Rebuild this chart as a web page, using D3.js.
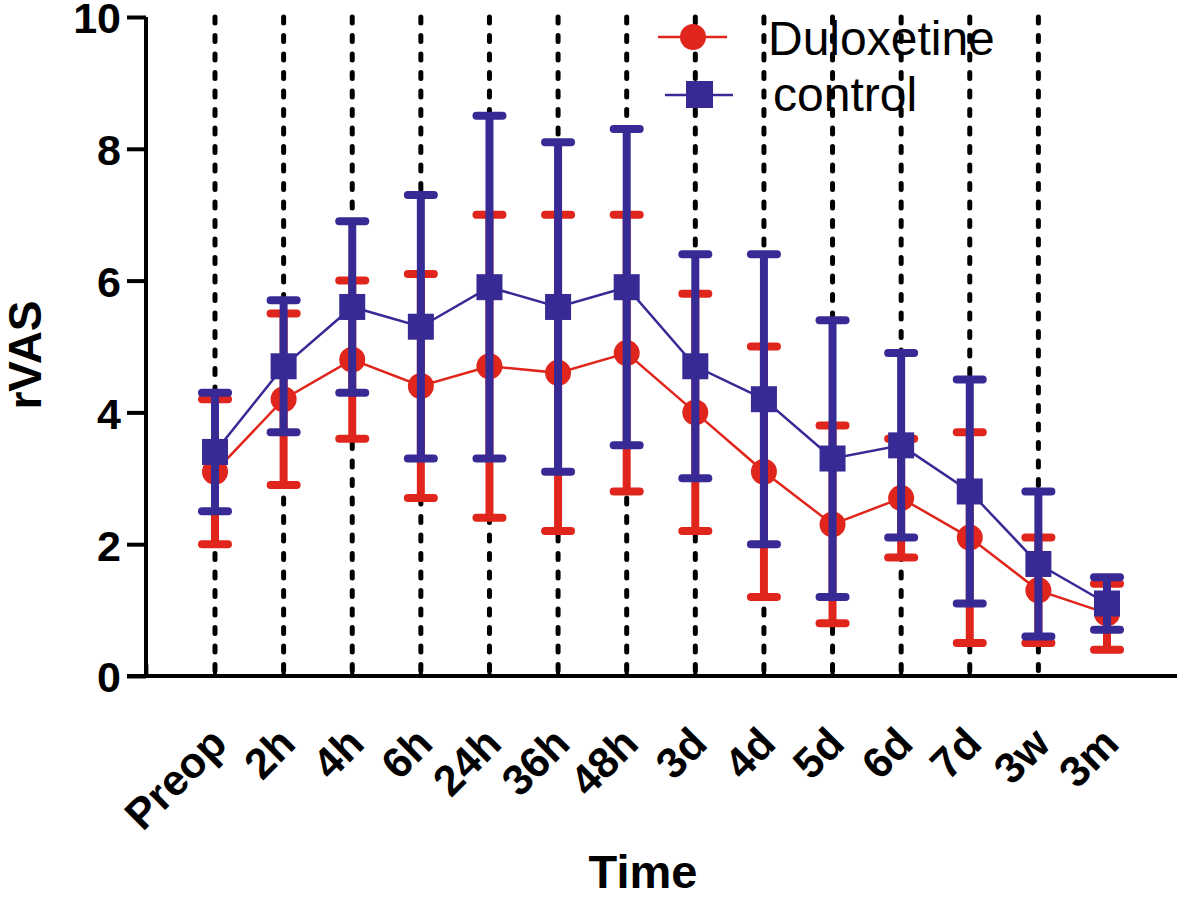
<!DOCTYPE html>
<html><head><meta charset="utf-8">
<script src="https://cdn.jsdelivr.net/npm/d3@7"></script>
<style>body{margin:0;background:#fff}svg{display:block}text{font-family:"Liberation Sans",Arial,sans-serif}</style>
</head><body><svg id="c" width="1180" height="898"></svg>
<script>
const categories = ["Preop","2h","4h","6h","24h","36h","48h","3d","4d","5d","6d","7d","3w","3m"];
const duloxMean  = [3.1,4.2,4.8,4.4,4.7,4.6,4.9,4.0,3.1,2.3,2.7,2.1,1.3,0.95];
const duloxUpper = [4.2,5.5,6.0,6.1,7.0,7.0,7.0,5.8,5.0,3.8,3.6,3.7,2.1,1.4];
const duloxLower = [2.0,2.9,3.6,2.7,2.4,2.2,2.8,2.2,1.2,0.8,1.8,0.5,0.5,0.4];
const ctrlMean   = [3.4,4.7,5.6,5.3,5.9,5.6,5.9,4.7,4.2,3.3,3.5,2.8,1.7,1.1];
const ctrlUpper  = [4.3,5.7,6.9,7.3,8.5,8.1,8.3,6.4,6.4,5.4,4.9,4.5,2.8,1.5];
const ctrlLower  = [2.5,3.7,4.3,3.3,3.3,3.1,3.5,3.0,2.0,1.2,2.1,1.1,0.6,0.7];
const yTicks = [0,2,4,6,8,10];
const seriesNames = ["Duloxetine","control"];

const RED = "#e0261c", BLUE = "#382a95";
const svg = d3.select("#c");
const x = d3.scalePoint().domain(categories).range([215,1107]);
const y = d3.scaleLinear().domain([0,10]).range([676,17]);
const step = x.step();

// dotted guide lines (all but last category)
svg.append("g").selectAll("line").data(categories.slice(0,-1)).join("line")
  .attr("x1",d=>x(d)).attr("x2",d=>x(d)).attr("y1",y(10)).attr("y2",y(0))
  .attr("stroke","#000").attr("stroke-width",5).attr("stroke-dasharray","6,12.5").attr("stroke-linecap","round");

// y axis
const ya = svg.append("g").attr("transform","translate(146,0)")
  .call(d3.axisLeft(y).tickValues(yTicks).tickSize(19).tickPadding(6).tickFormat(d3.format("d")));
ya.select(".domain").attr("stroke","#000").attr("stroke-width",4).attr("d",`M0,${y(10)}V${y(0)}`);
ya.selectAll(".tick line").attr("stroke","#000").attr("stroke-width",4);
ya.selectAll(".tick text").attr("font-size",43).attr("font-weight","bold").attr("fill","#000").attr("dy","0.37em");

// x axis line
svg.append("line").attr("x1",127).attr("x2",1177).attr("y1",y(0)).attr("y2",y(0)).attr("stroke","#000").attr("stroke-width",4);
// x ticks (offset one step left, GraphPad style)
svg.append("g").selectAll("line").data(categories.slice(0,-1)).join("line")
  .attr("x1",d=>x(d)-step).attr("x2",d=>x(d)-step).attr("y1",y(0)).attr("y2",y(0)-11)
  .attr("stroke","#000").attr("stroke-width",4).attr("stroke-linecap","round");
// x labels
svg.append("g").selectAll("text").data(categories).join("text")
  .attr("transform",d=>`translate(${x(d)+14},${746}) rotate(-45)`)
  .attr("text-anchor","end").attr("font-size",43).attr("font-weight","bold").text(d=>d);

// axis titles
svg.append("text").attr("x",643).attr("y",888).attr("text-anchor","middle").attr("font-size",47).attr("font-weight","bold").text("Time");
svg.append("text").attr("transform","translate(41,355) rotate(-90)").attr("text-anchor","middle").attr("font-size",46).attr("font-weight","bold").text("rVAS");

function drawSeries(mean, up, lo, color, shape){
  const g = svg.append("g");
  const idx = d3.range(categories.length);
  g.selectAll("line.eb").data(idx).join("line").attr("class","eb")
    .attr("x1",i=>x(categories[i])).attr("x2",i=>x(categories[i]))
    .attr("y1",i=>y(up[i])).attr("y2",i=>y(lo[i])).attr("stroke",color).attr("stroke-width",8);
  [up,lo].forEach(arr=>{
    g.append("g").selectAll("line").data(idx).join("line")
      .attr("x1",i=>x(categories[i])-13).attr("x2",i=>x(categories[i])+13)
      .attr("y1",i=>y(arr[i])).attr("y2",i=>y(arr[i]))
      .attr("stroke",color).attr("stroke-width",8).attr("stroke-linecap","round");
  });
  g.append("path").datum(idx).attr("fill","none").attr("stroke",color).attr("stroke-width",2.5)
    .attr("d",d3.line().x(i=>x(categories[i])).y(i=>y(mean[i])));
  if(shape==="circle"){
    g.selectAll("circle").data(idx).join("circle").attr("cx",i=>x(categories[i])).attr("cy",i=>y(mean[i])).attr("r",13).attr("fill",color);
  } else {
    g.selectAll("rect").data(idx).join("rect").attr("x",i=>x(categories[i])-13).attr("y",i=>y(mean[i])-13).attr("width",26).attr("height",26).attr("fill",color);
  }
}
drawSeries(duloxMean,duloxUpper,duloxLower,RED,"circle");
drawSeries(ctrlMean,ctrlUpper,ctrlLower,BLUE,"square");

// legend
const lg = svg.append("g");
lg.append("line").attr("x1",658).attr("x2",727).attr("y1",37).attr("y2",37).attr("stroke",RED).attr("stroke-width",2.5);
lg.append("circle").attr("cx",693).attr("cy",37).attr("r",13).attr("fill",RED);
lg.append("text").attr("x",768).attr("y",55).attr("font-size",48).text(seriesNames[0]);
lg.append("line").attr("x1",665).attr("x2",733).attr("y1",95).attr("y2",95).attr("stroke",BLUE).attr("stroke-width",2.5);
lg.append("rect").attr("x",686).attr("y",81).attr("width",27).attr("height",27).attr("fill",BLUE);
lg.append("text").attr("x",773).attr("y",111).attr("font-size",48).text(seriesNames[1]);
</script></body></html>
